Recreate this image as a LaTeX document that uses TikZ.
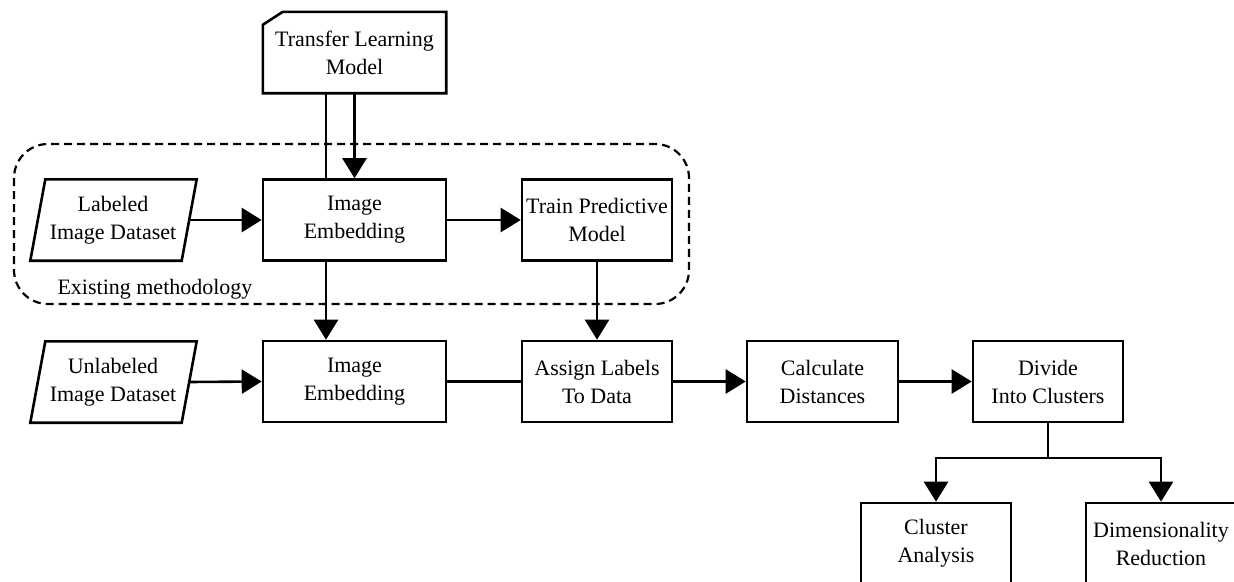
\documentclass[tikz,border=0pt]{standalone}
\usepackage{fontspec}
\setmainfont{Liberation Serif}
\usetikzlibrary{arrows.meta,calc}

\tikzset{
  txt/.style={font=\fontsize{22}{28}\selectfont, align=center, inner sep=0pt},
  procbox/.style={txt, draw, line width=2.6pt, minimum width=#1, minimum height=81pt},
  procbox/.default=150pt,
  datafree/.style={txt, minimum width=151pt, minimum height=81pt},
  outline/.style={line width=2.6pt, line join=miter},
  link/.style={line width=2.6pt},
  flow/.style={line width=2.6pt, -{Triangle[length=20pt, width=24pt]}},
  groupline/.style={line width=2.2pt, dash pattern=on 8pt off 5pt, rounded corners=34pt},
}

\begin{document}
\begin{tikzpicture}[x=1pt, y=-1pt]
  \useasboundingbox (0,0) rectangle (1234,581);

  % group frame around the existing pipeline
  \draw[groupline] (14,144) rectangle (689,304);
  \node[txt, anchor=base] (grouplabel) at (155,294) {Existing methodology};

  % pre-trained model (card shape)
  \node[txt, minimum width=183pt, minimum height=81pt] (tlm) at (354.5,52.5)
       {Transfer Learning\\Model};
  \draw[outline] ($(tlm.north west)+(20,0)$) -- (tlm.north east) -- (tlm.south east)
       -- (tlm.south west) -- ($(tlm.north west)+(0,13)$) -- cycle;

  % data inputs (parallelograms)
  \node[datafree] (lid) at (113,220) {Labeled\\Image Dataset};
  \draw[outline] ($(lid.north west)+(8,0)$) -- ($(lid.north east)+(8,0)$)
       -- ($(lid.south east)+(-7,0)$) -- ($(lid.south west)+(-7,0)$) -- cycle;
  \node[datafree] (uid) at (113,382) {Unlabeled\\Image Dataset};
  \draw[outline] ($(uid.north west)+(8,0)$) -- ($(uid.north east)+(8,0)$)
       -- ($(uid.south east)+(-7,0)$) -- ($(uid.south west)+(-7,0)$) -- cycle;

  % process steps
  \node[procbox=183pt] (ie1) at (354.5,220) {Image\\Embedding};
  \node[procbox] (tpm) at (597,220) {Train Predictive\\Model};
  \node[procbox=183pt] (ie2) at (354.5,381.5) {Image\\Embedding};
  \node[procbox] (atd) at (597,381.5) {Assign Labels\\To Data};
  \node[procbox=151pt] (cd) at (822.5,381.5) {Calculate\\Distances};
  \node[procbox] (dic) at (1048,381.5) {Divide\\Into Clusters};
  \node[procbox] (ca) at (936,543.5) {Cluster\\Analysis};
  \node[procbox] (dr) at (1161,543.5) {Dimensionality\\Reduction};

  % connectors
  \draw[link] ([xshift=-28.5pt]tlm.south) -- ([xshift=-28.5pt]ie1.north);
  \draw[flow] (tlm.south) -- (ie1.north);
  \draw[flow] (lid.east) -- (ie1.west);
  \draw[flow] (ie1.east) -- (tpm.west);
  \draw[flow] ([xshift=-28.5pt]ie1.south) -- ([xshift=-28.5pt]ie2.north);
  \draw[flow] (tpm.south) -- (atd.north);
  \draw[flow] (uid.east) -- (ie2.west);
  \draw[link] (ie2.east) -- (atd.west);
  \draw[flow] (atd.east) -- (cd.west);
  \draw[flow] (cd.east) -- (dic.west);

  \coordinate (split) at (1048,458);
  \draw[link] (dic.south) -- (split);
  \draw[flow] (split) -| (ca.north);
  \draw[flow] (split) -| (dr.north);
\end{tikzpicture}
\end{document}
